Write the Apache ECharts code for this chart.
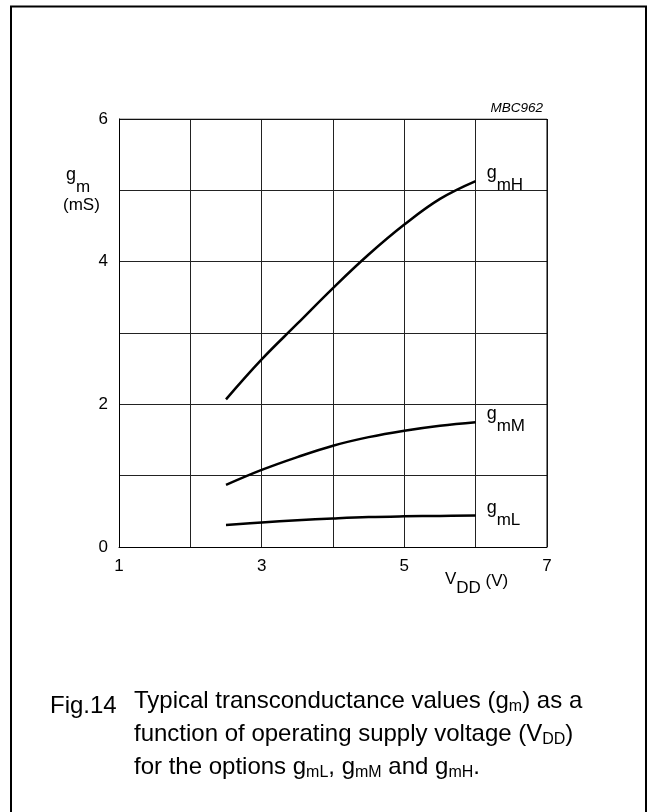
<!DOCTYPE html>
<html>
<head>
<meta charset="utf-8">
<style>
  html, body { margin: 0; padding: 0; background: #fff; }
  #chart { width: 653px; height: 812px; }
</style>
<script src="https://cdn.jsdelivr.net/npm/echarts@6/dist/echarts.min.js"></script>
</head>
<body>
<div id="chart"></div>
<script>
// supply voltage V_DD (V)
const vdd = [2.5, 3, 3.5, 4, 4.5, 5, 5.5, 6]
// transconductance (mS) per option
const gmH = [2.07, 2.63, 3.13, 3.63, 4.1, 4.52, 4.88, 5.13]
const gmM = [0.87, 1.08, 1.26, 1.42, 1.54, 1.63, 1.70, 1.75]
const gmL = [0.31, 0.345, 0.375, 0.40, 0.42, 0.43, 0.435, 0.44]
const xTicks = [1, 3, 5, 7]
const yTicks = [0, 2, 4, 6]

const FONT = 'Liberation Sans, Arial, sans-serif'

function pairs(ys) {
  return vdd.map((x, i) => [x, ys[i]])
}

// rich styles for "g" with subscript
const subRich = {
  g: { fontFamily: FONT, fontSize: 18, color: '#000', verticalAlign: 'top', lineHeight: 30 },
  s: { fontFamily: FONT, fontSize: 17, color: '#000', verticalAlign: 'bottom', lineHeight: 30 }
}

function curve(name, ys, sub) {
  return {
    name: name,
    type: 'line',
    data: pairs(ys),
    smooth: 0.4,
    symbol: 'none',
    lineStyle: { color: '#000', width: 2.5 },
    endLabel: {
      show: true,
      formatter: '{g|g}{s|' + sub + '}',
      rich: subRich,
      distance: 11,
      offset: [0, -2]
    },
    silent: true,
    z: 3
  }
}

let myChart = echarts.init(document.getElementById('chart'))

const capRich = {
  t: { fontFamily: FONT, fontSize: 24, color: '#000', lineHeight: 33 },
  s: { fontFamily: FONT, fontSize: 16, color: '#000', lineHeight: 33, verticalAlign: 'bottom', padding: [0, 0, 3, 0] }
}

myChart.setOption({
  backgroundColor: '#fff',
  animation: false,
  grid: { left: 119, top: 119, width: 428, height: 428 },
  xAxis: {
    type: 'value', min: 1, max: 7, interval: 1,
    axisLine: { show: true, lineStyle: { color: '#000', width: 1 } },
    axisTick: { show: false },
    splitLine: { show: true, lineStyle: { color: '#222', width: 1 } },
    axisLabel: {
      margin: 11, fontFamily: FONT, fontSize: 17, color: '#000',
      formatter: v => xTicks.includes(v) ? String(v) : ''
    }
  },
  yAxis: {
    type: 'value', min: 0, max: 6, interval: 1,
    axisLine: { show: true, lineStyle: { color: '#000', width: 1 } },
    axisTick: { show: false },
    splitLine: { show: true, lineStyle: { color: '#222', width: 1 } },
    axisLabel: {
      margin: 11, fontFamily: FONT, fontSize: 17, color: '#000',
      formatter: v => yTicks.includes(v) ? String(v) : ''
    }
  },
  series: [
    curve('gmH', gmH, 'mH'),
    curve('gmM', gmM, 'mM'),
    curve('gmL', gmL, 'mL'),
    {
      // right and top frame of the plot
      type: 'line', data: [[1, 6], [7, 6], [7, 0]], symbol: 'none', silent: true,
      lineStyle: { color: '#000', width: 1 }, z: 2
    }
  ],
  graphic: [
    { type: 'polyline', shape: { points: [[11, 830], [11, 6.5], [646, 6.5], [646, 830]] },
      style: { stroke: '#000', lineWidth: 2, fill: null } },
    { type: 'text', left: 66, top: 166,
      style: { text: '{g|g}{s|m}', rich: subRich } },
    { type: 'text', left: 63, top: 197,
      style: { text: '(mS)', fontFamily: FONT, fontSize: 17, fill: '#000' } },
    { type: 'text', right: 110, top: 101,
      style: { text: 'MBC962', fontFamily: FONT, fontSize: 13.5, fontStyle: 'italic', fill: '#000' } },
    { type: 'text', left: 445, top: 571,
      style: {
        text: '{v|V}{s|DD}{u| (V)}',
        rich: {
          v: { fontFamily: FONT, fontSize: 17, color: '#000', verticalAlign: 'top', lineHeight: 26 },
          s: { fontFamily: FONT, fontSize: 17, color: '#000', verticalAlign: 'bottom', lineHeight: 26 },
          u: { fontFamily: FONT, fontSize: 17, color: '#000', verticalAlign: 'top', lineHeight: 26, padding: [2, 0, 0, 0] }
        }
      } },
    { type: 'text', left: 50, top: 694,
      style: { text: 'Fig.14', fontFamily: FONT, fontSize: 24, fill: '#000' } },
    { type: 'text', left: 134, top: 689,
      style: {
        text: '{t|Typical transconductance values (g}{s|m}{t|) as a}\n' +
              '{t|function of operating supply voltage (V}{s|DD}{t|)}\n' +
              '{t|for the options g}{s|mL}{t|, g}{s|mM}{t| and g}{s|mH}{t|.}',
        rich: capRich
      } }
  ]
})
</script>
</body>
</html>
